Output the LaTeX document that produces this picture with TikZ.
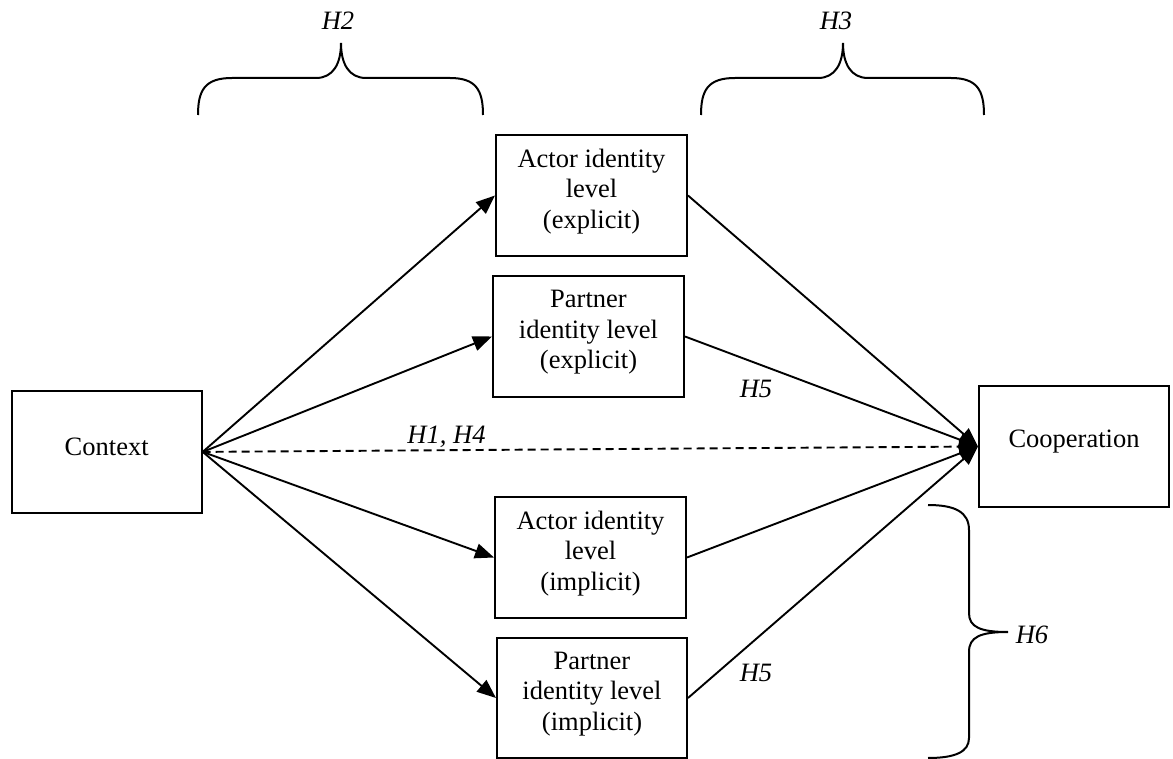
\documentclass[tikz,border=0pt]{standalone}
\usepackage{fontspec}
\setmainfont{Liberation Serif}
\usetikzlibrary{arrows.meta,calc}
\tikzset{
  box/.style={draw, line width=2pt, minimum width=191pt, minimum height=121pt, inner sep=0pt},
  txt/.style={align=center, font=\fontsize{26.5}{30.5}\selectfont, inner sep=0pt},
  hlab/.style={font=\fontsize{26.5}{30}\selectfont\itshape, inner sep=0pt, anchor=base},
  conn/.style={line width=1.9pt},
  arr/.style={conn, -{Triangle[length=19pt,width=15pt]}},
  bracepath/.style={line width=2pt},
}
\begin{document}
\begin{tikzpicture}[x=1pt,y=-1pt]
\useasboundingbox (0,0) rectangle (1173,759);
% boxes
\node[box, minimum width=190pt, minimum height=122pt] (ctx) at (106.7,451.9) {};
\node[box, minimum width=190pt] (coop) at (1074,446.5) {};
\node[box] (ae) at (591.5,195.5) {};
\node[box] (pe) at (588.5,336.5) {};
\node[box] (ai) at (590.5,557.5) {};
\node[box, minimum width=190pt, minimum height=120pt] (pi) at (592,698) {};
% texts
\node[txt, yshift=5.5pt] (ctxt) at (ctx.center) {Context};
\node[txt, yshift=5pt] (coopt) at (coop.center) {Cooperation};
\node[txt, yshift=4pt] (aet) at (ae.center) {Actor identity\\level\\(explicit)};
\node[txt, yshift=4pt] (pet) at (pe.center) {Partner\\identity level\\(explicit)};
\node[txt, yshift=4pt] (ait) at (ai.center) {Actor identity\\level\\(implicit)};
\node[txt, yshift=4pt] (pit) at (pi.center) {Partner\\identity level\\(implicit)};
% connectors
\draw[arr] (ctx.east) -- (ae.west);
\draw[arr] (ctx.east) -- (pe.west);
\draw[arr] (ctx.east) -- (ai.west);
\draw[arr] (ctx.east) -- (pi.west);
\draw[arr] (ae.east) -- (coop.west);
\draw[arr] (pe.east) -- (coop.west);
\draw[arr] (ai.east) -- (coop.west);
\draw[arr] (pi.east) -- (coop.west);
\draw[arr, dash pattern=on 8pt off 5pt] (ctx.east) -- (coop.west);
% labels
\node[hlab] (h2) at (338,30) {H2};
\node[hlab] (h3) at (836,30) {H3};
\node[hlab] (h14) at (446.5,443) {H1, H4};
\node[hlab] (h5a) at (756,397) {H5};
\node[hlab] (h5b) at (756,681) {H5};
\node[hlab] (h6) at (1032,643) {H6};
% braces
\draw[bracepath] (198,115) .. controls (198,90) and (205,78) .. (232,78) -- (316,78)
  .. controls (333,78) and (341,64) .. (341,43)
  .. controls (341,64) and (349,78) .. (366,78) -- (450,78)
  .. controls (476,78) and (483,90) .. (483,115);
\draw[bracepath] (701,115) .. controls (701,90) and (708,78) .. (735,78) -- (818,78)
  .. controls (835,78) and (843,64) .. (843,43)
  .. controls (843,64) and (851,78) .. (868,78) -- (951,78)
  .. controls (977,78) and (984,90) .. (984,115);
\draw[bracepath] (928,505) .. controls (955,505) and (969,512) .. (969,530) -- (969,613)
  .. controls (969,627) and (980,632) .. (1008,632)
  .. controls (980,632) and (969,637) .. (969,652) -- (969,738)
  .. controls (969,752) and (955,758) .. (928,758);
\end{tikzpicture}
\end{document}
